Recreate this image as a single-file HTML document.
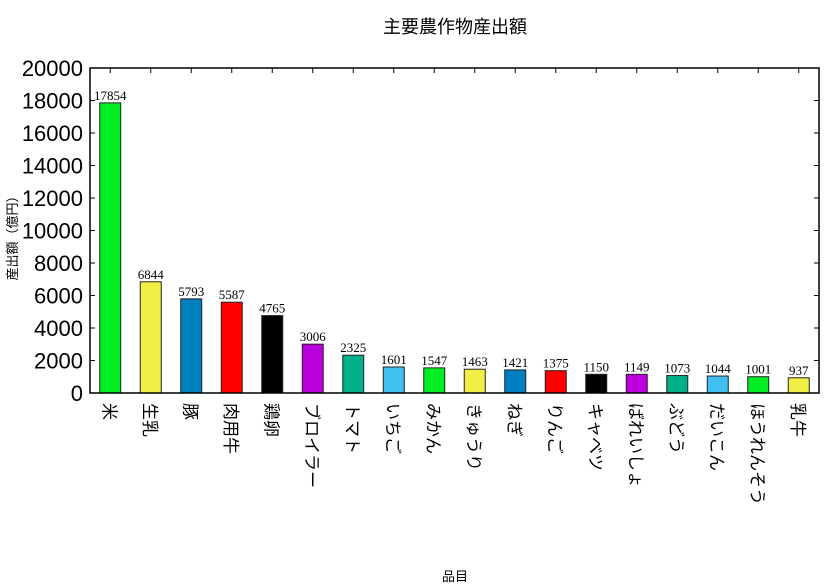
<!DOCTYPE html>
<html><head><meta charset="utf-8">
<style>
html,body{margin:0;padding:0;background:#fff;}
svg{display:block;font-family:"Liberation Sans","Noto Sans CJK JP",sans-serif;}
</style></head>
<body>
<svg id="chart" width="840" height="588" viewBox="0 0 840 588">
<text x="455" y="33" font-size="18" text-anchor="middle">主要農作物産出額</text>
<text x="455" y="581" font-size="13" text-anchor="middle">品目</text>
<text transform="translate(17,235) rotate(-90)" font-size="13" text-anchor="middle">産出額（億円）</text>
<g id="bars"></g><g id="yticks"></g><g id="xticks"></g>
<rect x="90" y="68" width="729" height="325" fill="none" stroke="#000" stroke-width="1.5"/>
</svg>
<script>
const categories=["米","生乳","豚","肉用牛","鶏卵","ブロイラー","トマト","いちご","みかん","きゅうり","ねぎ","りんご","キャベツ","ばれいしょ","ぶどう","だいこん","ほうれんそう","乳牛"];
const values=[17854,6844,5793,5587,4765,3006,2325,1601,1547,1463,1421,1375,1150,1149,1073,1044,1001,937];
const colors=["#00ee22","#f0ee44","#0080c0","#ff0000","#000000","#bb00dd","#00b088","#40c0f0"];
const yTicks=[0,2000,4000,6000,8000,10000,12000,14000,16000,18000,20000];
const NS="http://www.w3.org/2000/svg";
const L=90,R=819,T=68,B=393,yMax=20000;
const step=(R-L)/categories.length;
const xS=i=>L+step*(i+0.5);
const yS=v=>B-(v/yMax)*(B-T);
function mk(t,a,p){const e=document.createElementNS(NS,t);for(const k in a)e.setAttribute(k,a[k]);p.appendChild(e);return e;}
const gb=document.getElementById('bars'),gy=document.getElementById('yticks'),gx=document.getElementById('xticks');
values.forEach((v,i)=>{
 const r=mk('rect',{x:xS(i)-10.5,y:yS(v),width:21,height:B-yS(v),fill:colors[i%colors.length],stroke:'#222','stroke-width':1},gb);
 
 
 const t=mk('text',{x:xS(i),y:yS(v)-3,'font-size':13,'text-anchor':'middle','font-family':'Liberation Serif, serif'},gb);
 t.textContent=v;
 
 
 mk('line',{x1:xS(i),x2:xS(i),y1:T,y2:T+5,stroke:'#000'},gx);
 const c=mk('text',{transform:`translate(${xS(i)-7},${B+10}) rotate(90)`,'font-size':17},gx);
 c.textContent=categories[i];
 
 
});
yTicks.forEach(v=>{
 mk('line',{x1:L,x2:L+5,y1:yS(v),y2:yS(v),stroke:'#000'},gy);
 mk('line',{x1:R-5,x2:R,y1:yS(v),y2:yS(v),stroke:'#000'},gy);
 const t=mk('text',{x:83,y:yS(v)+8,'font-size':22,'text-anchor':'end'},gy);
 t.textContent=v;
 
 
});
</script>
</body></html>
